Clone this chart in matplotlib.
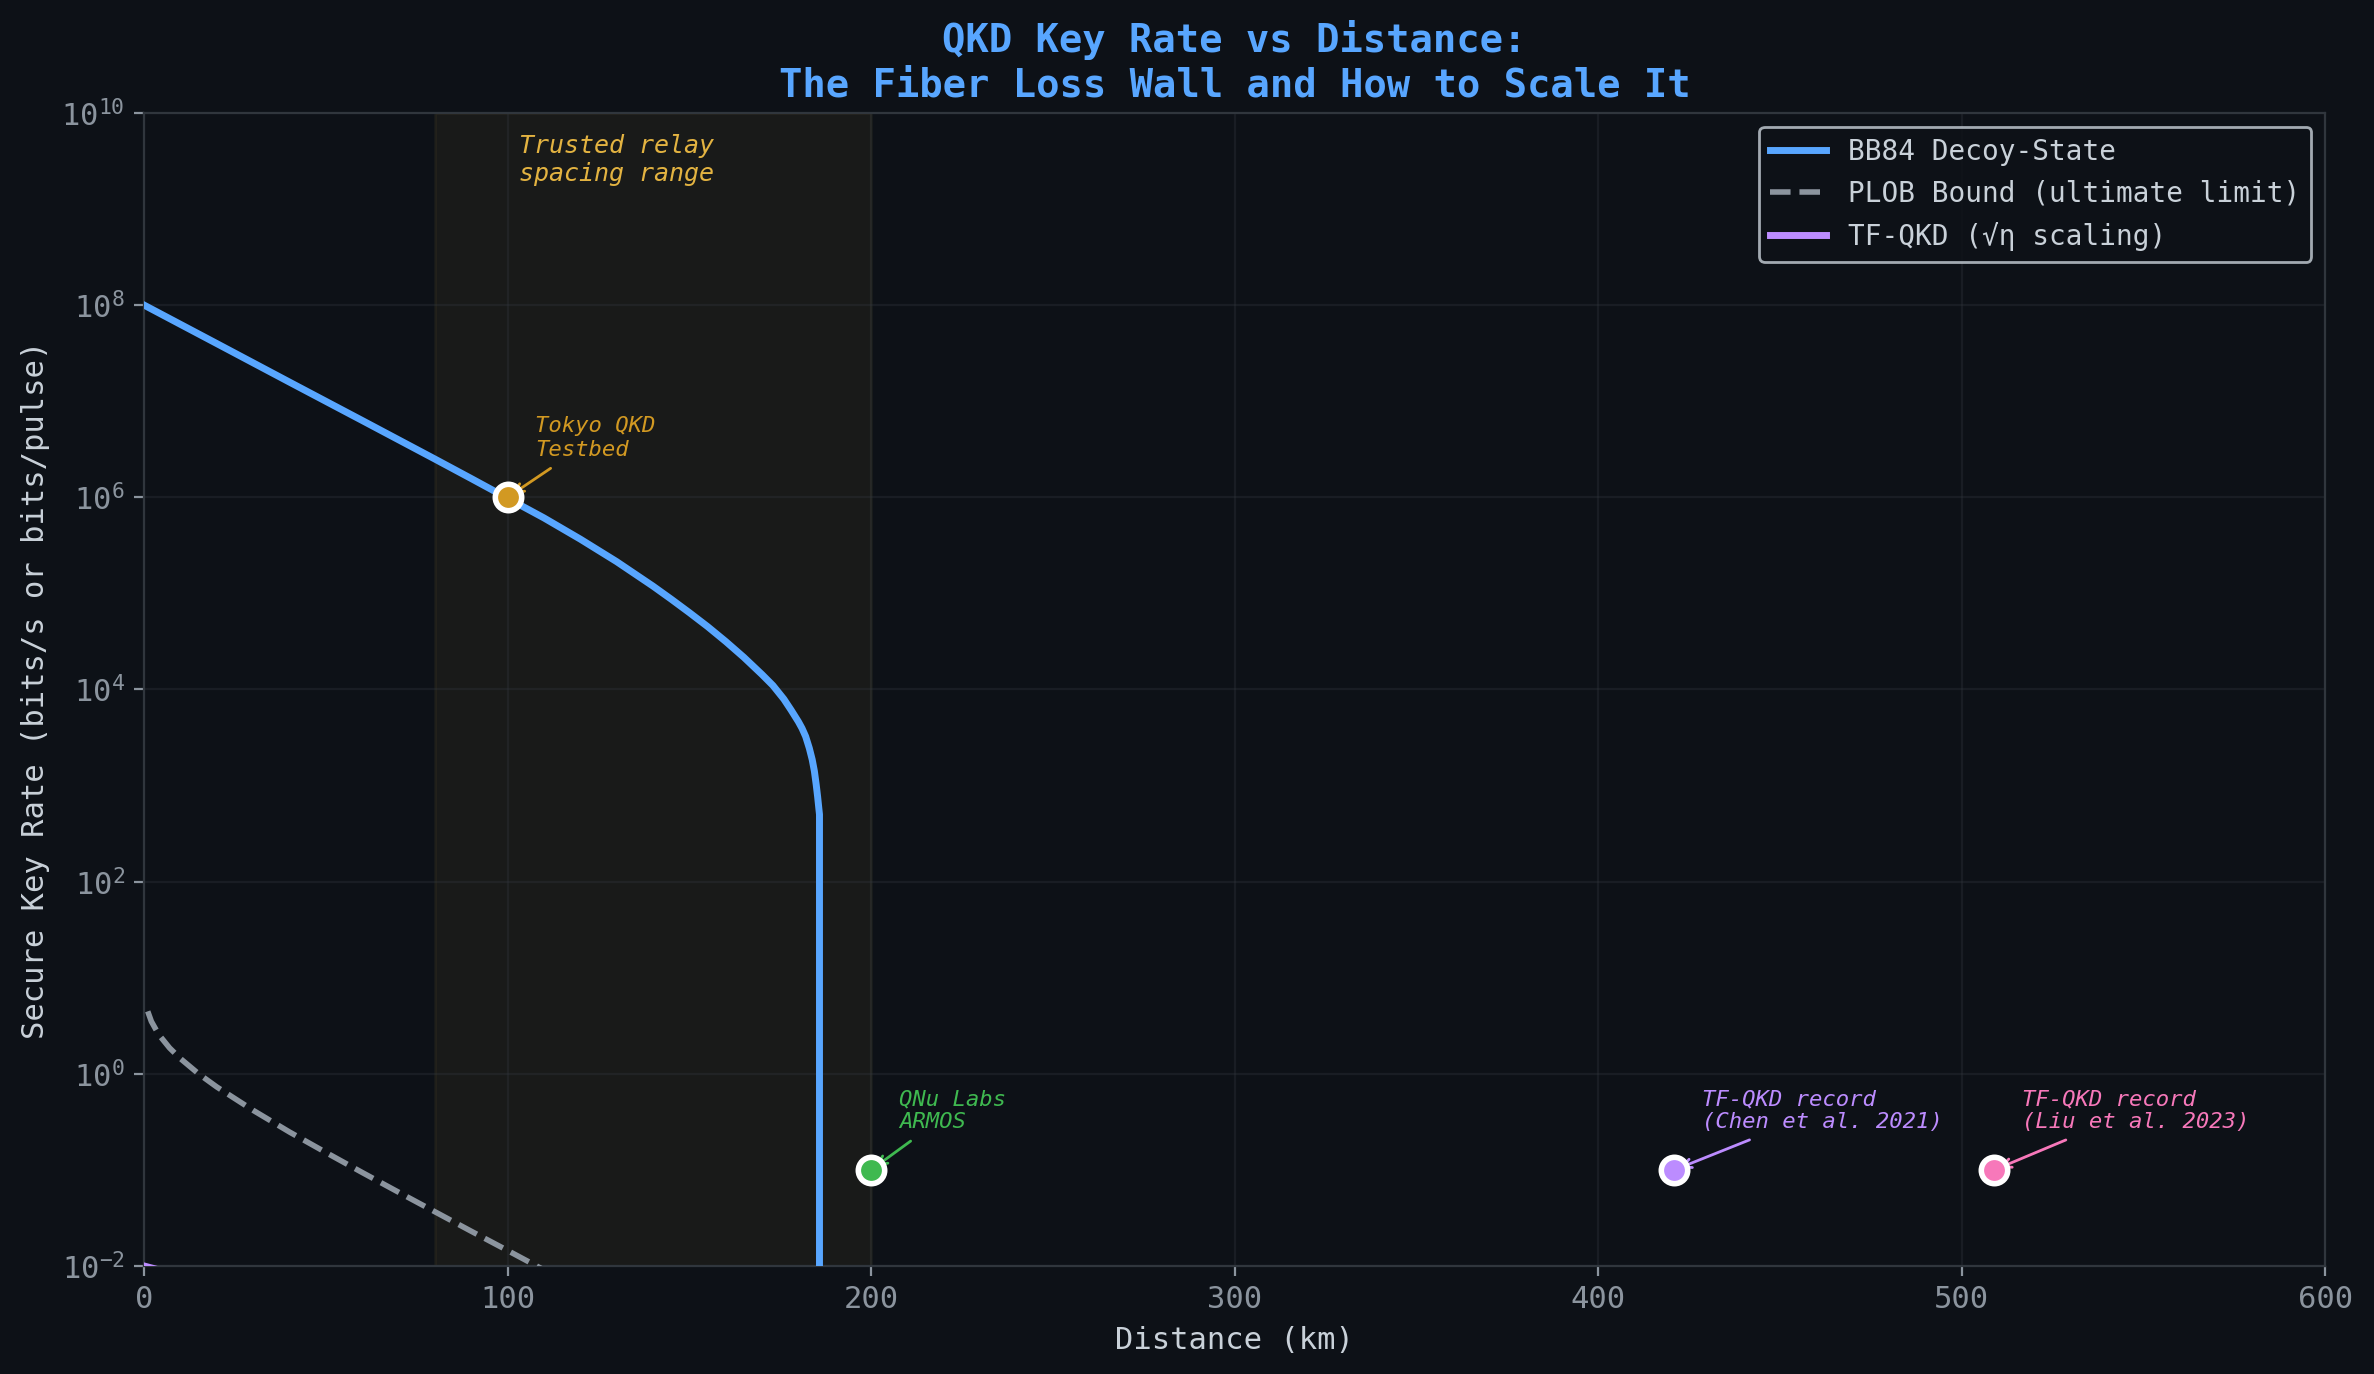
import matplotlib.pyplot as plt
from matplotlib.ticker import NullLocator

# Donnees
bb84_dist = [0, 20, 40, 60, 80, 90, 100, 110, 120, 130, 140, 145, 150, 155,
             160, 165, 170, 173, 176, 178, 180, 181, 182, 183, 183.8, 184.4,
             184.9, 185.3, 185.6, 185.8, 185.8]
bb84_rate = [1.0e8, 3.98e7, 1.58e7, 6.3e6, 2.5e6, 1.567e6, 9.77e5, 6.10e5,
             3.67e5, 2.14e5, 1.19e5, 8.71e4, 6.31e4, 4.52e4, 3.16e4, 2.16e4,
             1.43e4, 1.10e4, 7.94e3, 6.10e3, 4.62e3, 3.94e3, 3.24e3, 2.45e3,
             1.86e3, 1.41e3, 1.02e3, 7.59e2, 5.89e2, 5.01e2, 1e-10]

plob_dist = [1, 2, 4, 7, 10, 15, 20, 30, 40, 50, 60, 70, 80, 90, 100, 110]
plob_rate = [4.47, 3.51, 2.57, 1.86, 1.44, 1.00, 0.73, 0.417, 0.248, 0.152,
             0.094, 0.0586, 0.0367, 0.0230, 0.0145, 0.0091]

tf_dist = [0, 100, 200, 300, 400, 500, 600]
tf_rate = [1.0e-2, 1.0e-3, 1.0e-4, 1.0e-5, 1.0e-6, 1.0e-7, 1.0e-8]

# Experiences reelles
exp_labels = ["Tokyo QKD\nTestbed", "QNu Labs\nARMOS",
              "TF-QKD record\n(Chen et al. 2021)", "TF-QKD record\n(Liu et al. 2023)"]
exp_dist = [100, 200, 421, 509]
exp_rate = [1e6, 0.1, 0.1, 0.1]
exp_colors = ["#d29922", "#3fb950", "#bc8cff", "#f778ba"]

relay_range = (80, 200)

# Style sombre
bg = "#0d1117"
plt.rcParams['font.family'] = ['DejaVu Sans Mono', 'DejaVu Sans']

fig = plt.figure(figsize=(11.87, 6.87), dpi=200, facecolor=bg)
ax = fig.add_axes([0.0607, 0.0786, 0.9187, 0.8392])
ax.set_facecolor(bg)

ax.axvspan(relay_range[0], relay_range[1], color="#e3b341", alpha=0.06, zorder=0)

ax.plot(bb84_dist, bb84_rate, color="#58a6ff", lw=2.5, label="BB84 Decoy-State", zorder=3)
ax.plot(plob_dist, plob_rate, color="#8b949e", lw=2, ls="--",
        label="PLOB Bound (ultimate limit)", zorder=3)
ax.plot(tf_dist, tf_rate, color="#bc8cff", lw=2.5, label="TF-QKD (√η scaling)", zorder=3)

for lab, d, r, c in zip(exp_labels, exp_dist, exp_rate, exp_colors):
    ax.plot(d, r, "o", ms=9.5, color=c, mec="white", mew=2, zorder=6)
    ax.annotate(lab, xy=(d, r), xytext=(10, 15), textcoords="offset points",
                fontsize=8, color=c, style="italic",
                arrowprops=dict(arrowstyle="->", color=c, lw=1), zorder=5)

ax.text(130, 6e9, "Trusted relay\nspacing range", color="#e3b341", fontsize=9,
        style="italic", ha="center", va="top")

ax.set_yscale("log")
ax.set_xlim(0, 600)
ax.set_ylim(1e-2, 1e10)
ax.set_yticks([1e-2, 1e0, 1e2, 1e4, 1e6, 1e8, 1e10])
ax.yaxis.set_minor_locator(NullLocator())

ax.set_xlabel("Distance (km)", color="#c9d1d9", fontsize=11)
ax.set_ylabel("Secure Key Rate (bits/s or bits/pulse)", color="#c9d1d9", fontsize=11)
ax.set_title("QKD Key Rate vs Distance:\nThe Fiber Loss Wall and How to Scale It",
             color="#58a6ff", fontsize=14, fontweight="bold")

ax.tick_params(colors="#8b949e", labelsize=11)
for s in ax.spines.values():
    s.set_color("#30363d")
ax.grid(True, color="#30363d", alpha=0.35, lw=0.8)

leg = ax.legend(loc="upper right", fontsize=10, facecolor=bg, edgecolor="#c9d1d9")
for t in leg.get_texts():
    t.set_color("#c9d1d9")

plt.savefig("out.png", dpi=200, facecolor=bg)
